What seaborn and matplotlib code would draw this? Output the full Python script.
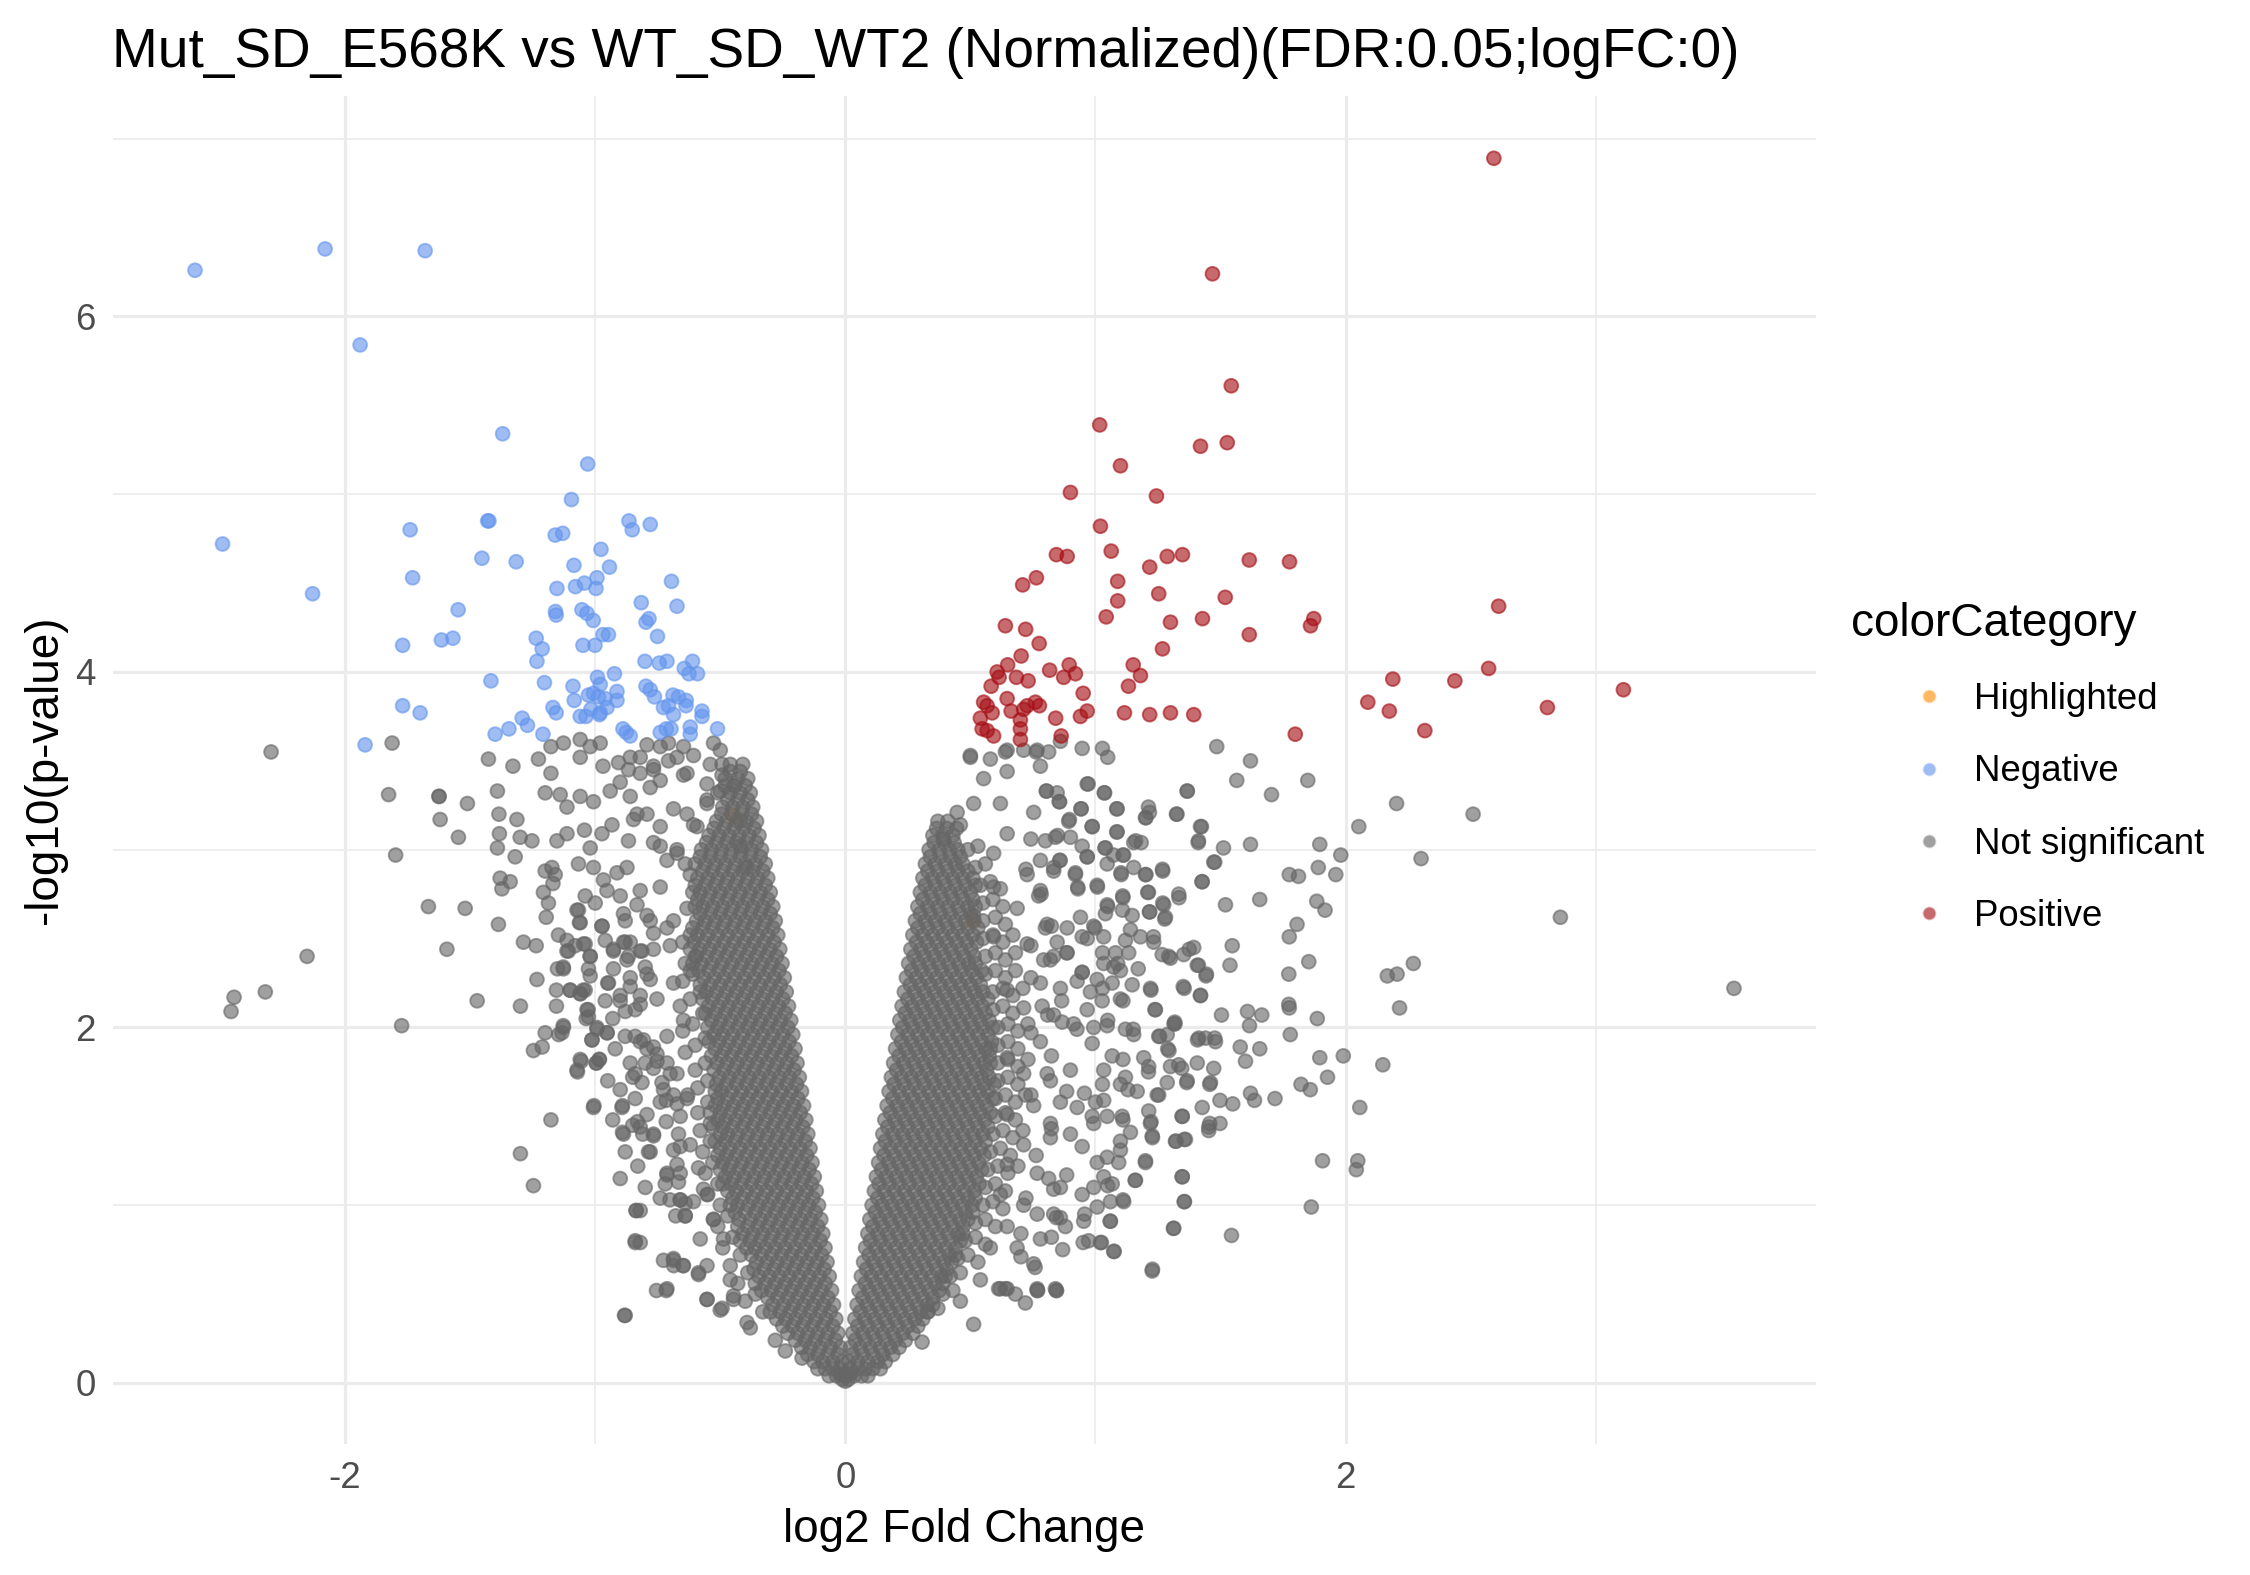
import numpy as np
import pandas as pd
import seaborn as sns
import matplotlib.pyplot as plt

# values (log2FC, -log10 p)
negative_pts = [
    (-2.60, 6.26), (-2.08, 6.38), (-1.68, 6.37), (-1.94, 5.84), (-1.37, 5.34), (-1.03, 5.17),
    (-1.43, 4.85), (-1.74, 4.80), (-1.73, 4.53), (-2.49, 4.72), (-2.13, 4.44), (-1.92, 3.59),
    (-1.77, 4.15), (-1.77, 3.81), (-1.70, 3.77),
    (-1.095, 4.97), (-1.425, 4.85), (-1.16, 4.77), (-1.13, 4.78), (-0.865, 4.85), (-0.852, 4.80),
    (-0.78, 4.83), (-1.453, 4.64), (-1.316, 4.62), (-0.977, 4.69), (-1.085, 4.60), (-0.943, 4.59),
    (-1.153, 4.47), (-1.079, 4.48), (-1.043, 4.50), (-0.993, 4.53), (-0.997, 4.47), (-0.695, 4.51),
    (-1.548, 4.35), (-0.816, 4.39), (-0.673, 4.37), (-1.159, 4.34), (-1.156, 4.32), (-1.053, 4.35),
    (-1.033, 4.33), (-1.008, 4.29), (-0.797, 4.28), (-0.785, 4.30), (-1.615, 4.18), (-1.569, 4.19),
    (-0.969, 4.21), (-0.947, 4.21), (-0.751, 4.20), (-1.236, 4.19), (-1.212, 4.13), (-1.233, 4.06),
    (-1.049, 4.15), (-1.001, 4.15), (-0.801, 4.06), (-0.744, 4.05), (-0.713, 4.06), (-0.644, 4.02),
    (-0.625, 3.99), (-0.611, 4.06), (-0.591, 3.99), (-1.417, 3.95), (-1.203, 3.94), (-0.991, 3.97),
    (-0.980, 3.93), (-0.923, 3.99), (-1.089, 3.92), (-1.084, 3.84), (-1.027, 3.87), (-1.007, 3.88),
    (-0.987, 3.86), (-0.960, 3.85), (-0.913, 3.89), (-0.913, 3.84), (-0.797, 3.92), (-0.780, 3.90),
    (-0.763, 3.86), (-0.689, 3.87), (-0.667, 3.86), (-0.636, 3.84), (-0.637, 3.81), (-0.727, 3.80),
    (-0.707, 3.81), (-0.687, 3.76), (-0.573, 3.78), (-0.573, 3.75), (-1.169, 3.80), (-1.156, 3.77),
    (-1.060, 3.75), (-1.037, 3.75), (-1.017, 3.79), (-0.983, 3.76), (-0.980, 3.77), (-0.953, 3.80),
    (-1.292, 3.74), (-1.271, 3.70), (-1.345, 3.68), (-1.400, 3.65), (-1.209, 3.65), (-0.889, 3.68),
    (-0.876, 3.66), (-0.860, 3.64), (-0.740, 3.66), (-0.716, 3.68), (-0.697, 3.68), (-0.620, 3.69),
    (-0.620, 3.65), (-0.511, 3.68),
]

positive_pts = [
    (2.593, 6.89), (1.468, 6.24), (1.543, 5.61), (1.017, 5.39), (1.42, 5.27), (1.527, 5.29),
    (1.10, 5.16), (0.90, 5.01), (1.244, 4.99), (1.02, 4.82), (1.063, 4.68), (0.844, 4.66),
    (0.887, 4.65), (1.287, 4.65), (1.348, 4.66), (1.217, 4.59), (1.615, 4.63), (1.776, 4.62),
    (0.764, 4.53), (0.709, 4.49), (1.089, 4.51), (1.089, 4.40), (1.253, 4.44), (1.519, 4.42),
    (1.043, 4.31), (1.30, 4.28), (1.428, 4.30), (1.873, 4.30), (1.86, 4.26), (1.615, 4.21),
    (0.64, 4.26), (0.721, 4.24), (0.775, 4.16), (0.703, 4.09), (1.268, 4.13), (0.649, 4.04),
    (1.151, 4.04), (1.18, 3.98), (0.895, 4.04), (0.92, 3.99), (0.873, 3.97), (0.817, 4.01),
    (0.607, 4.00), (0.615, 3.97), (0.684, 3.97), (0.731, 3.95), (0.583, 3.92), (1.132, 3.92),
    (0.951, 3.88), (0.647, 3.85), (0.553, 3.83), (0.567, 3.81), (0.76, 3.83), (0.776, 3.81),
    (0.713, 3.79), (0.727, 3.81), (0.587, 3.77), (0.663, 3.78), (0.967, 3.78), (0.94, 3.75),
    (1.116, 3.77), (1.217, 3.76), (1.30, 3.77), (1.393, 3.76), (0.841, 3.74), (0.54, 3.74),
    (0.547, 3.68), (0.567, 3.67), (0.70, 3.73), (0.70, 3.68), (0.70, 3.62), (0.593, 3.64),
    (0.863, 3.64), (1.799, 3.65), (2.089, 3.83), (2.612, 4.37), (2.572, 4.02), (2.189, 3.96),
    (2.437, 3.95), (2.175, 3.78), (2.317, 3.67), (2.807, 3.80), (3.111, 3.90),
]

highlighted_pts = [(-0.447, 3.19), (0.507, 2.60)]

# sparse / outlying non-significant genes
grey_left_pts = [
    (-2.296, 3.55), (-1.812, 3.60), (-1.826, 3.31), (-1.625, 3.30), (-1.798, 2.97), (-2.152, 2.40),
    (-2.319, 2.20), (-2.444, 2.17), (-2.456, 2.09), (-1.472, 2.15), (-1.774, 2.01), (-1.299, 2.12),
    (-1.247, 1.87), (-1.212, 1.89), (-1.200, 1.97), (-1.177, 1.48), (-1.299, 1.29), (-1.247, 1.11),
    (-1.233, 2.27), (-1.155, 2.21), (-1.10, 2.21), (-1.059, 2.19), (-1.155, 2.12), (-1.128, 2.01),
    (-1.146, 1.96), (-1.048, 2.21), (-1.028, 2.10), (-1.036, 2.05), (-0.993, 2.00), (-1.013, 1.93),
    (-0.952, 1.97), (-1.056, 1.81), (-1.071, 1.75), (-0.995, 1.80), (-0.984, 1.82), (-1.005, 1.56),
    (-0.891, 1.56), (-0.891, 1.41), (-0.837, 0.97), (-0.840, 0.80), (-0.883, 0.38), (-0.727, 0.69),
    (-0.686, 0.66), (-0.755, 0.52), (-0.678, 0.94), (-0.701, 1.03), (-0.64, 1.01), (-1.128, 2.34),
    (-1.151, 2.33), (-0.95, 2.25), (-0.90, 2.15), (-0.93, 2.05), (-0.88, 1.95), (-0.92, 1.88),
    (-0.86, 1.80), (-0.95, 1.70), (-0.90, 1.65), (-0.85, 1.72), (-0.93, 1.48), (-0.85, 1.45),
    (-0.88, 1.30), (-0.83, 1.22), (-0.90, 1.15), (-0.80, 1.10), (-0.86, 2.28), (-0.84, 2.10),
    (-0.82, 1.92), (-0.84, 1.60), (-0.81, 1.40),
    (-1.06, 3.62), (-1.02, 3.58), (-0.98, 3.60), (-1.06, 3.52), (-1.127, 3.60), (-1.177, 3.58),
    (-1.227, 3.51), (-1.427, 3.51), (-1.329, 3.47), (-1.177, 3.43), (-0.969, 3.47), (-0.907, 3.49),
    (-0.86, 3.52), (-0.82, 3.52), (-0.793, 3.59), (-0.74, 3.58), (-0.707, 3.60), (-0.647, 3.58),
    (-0.607, 3.53), (-0.527, 3.60), (-0.50, 3.56), (-0.54, 3.48), (-0.493, 3.48), (-0.493, 3.42),
    (-0.447, 3.36), (-0.553, 3.37), (-0.633, 3.43), (-0.673, 3.52), (-0.707, 3.50), (-0.767, 3.45),
    (-0.74, 3.39), (-0.78, 3.35), (-0.82, 3.43), (-0.867, 3.45), (-0.90, 3.38), (-0.94, 3.33),
    (-1.007, 3.27), (-1.06, 3.30), (-1.113, 3.24), (-1.14, 3.31), (-1.20, 3.32), (-1.391, 3.33),
    (-1.511, 3.26), (-1.624, 3.30), (-1.62, 3.17), (-1.547, 3.07), (-1.385, 3.20), (-1.313, 3.17),
    (-1.30, 3.07), (-1.253, 3.05), (-1.391, 3.01), (-1.32, 2.96), (-1.383, 3.09), (-1.153, 3.05),
    (-1.113, 3.09), (-1.043, 3.11), (-1.02, 3.01), (-0.973, 3.09), (-0.933, 3.14), (-0.867, 3.05),
    (-0.847, 3.17), (-0.793, 3.20), (-0.74, 3.13), (-0.687, 3.23), (-0.633, 3.20), (-0.593, 3.13),
    (-0.553, 3.28), (-0.42, 3.16), (-0.86, 3.30), (-0.833, 3.20), (-0.767, 3.04), (-0.713, 2.94),
    (-0.673, 3.00), (-1.067, 2.92), (-1.007, 2.90), (-1.173, 2.90), (-1.20, 2.88), (-1.16, 2.86),
    (-1.169, 2.81), (-1.207, 2.76), (-1.38, 2.84), (-1.34, 2.82), (-1.373, 2.78), (-1.187, 2.70),
    (-1.196, 2.62), (-1.667, 2.68), (-1.52, 2.67), (-1.387, 2.58), (-1.593, 2.44), (-1.287, 2.48),
    (-1.236, 2.46), (-1.147, 2.52), (-1.113, 2.49), (-1.073, 2.66), (-1.063, 2.59), (-1.04, 2.74),
    (-1.047, 2.47), (-0.967, 2.83), (-0.953, 2.77), (-0.913, 2.87), (-0.90, 2.74), (-0.887, 2.64),
    (-0.873, 2.90), (-0.833, 2.69), (-0.82, 2.77), (-0.78, 2.60), (-0.767, 2.53), (-0.713, 2.56),
    (-0.973, 2.57), (-0.927, 2.44), (-0.88, 2.48), (-0.867, 2.40), (-1.107, 2.43), (-1.02, 2.40),
    (-0.82, 2.43),
    (-0.78, 1.30), (-0.767, 1.40), (-0.713, 1.18), (-0.66, 1.03), (-0.64, 0.94), (-0.687, 0.70),
    (-0.647, 0.66), (-0.713, 0.53), (-0.587, 0.61), (-0.553, 0.47), (-0.50, 0.41), (-0.447, 0.47),
    (-0.393, 0.34), (-0.38, 0.31), (-0.28, 0.24), (-0.24, 0.18), (-0.173, 0.14), (-0.793, 1.51),
    (-0.74, 1.58), (-0.687, 1.62), (-0.633, 1.60), (-0.70, 1.74), (-0.753, 1.81), (-0.793, 1.88),
    (-0.713, 1.95), (-0.647, 2.04), (-0.753, 2.16), (-0.793, 2.30), (-0.687, 2.25), (-0.62, 2.32),
    (-0.767, 2.44), (-0.70, 2.46), (-0.793, 2.63), (-0.687, 2.60), (-0.633, 2.67), (-0.74, 2.79),
    (-0.62, 2.86), (-0.673, 2.98), (-0.74, 3.02), (-0.607, 3.14), (-0.553, 3.26), (-0.50, 3.33),
    (-0.647, 3.42), (-0.767, 3.47), (-0.42, 3.02), (-0.393, 2.90), (-0.587, 1.21), (-0.567, 1.09),
    (-0.527, 0.92), (-0.487, 0.81), (-0.46, 0.58), (-0.58, 0.81), (-0.62, 1.34), (-0.74, 1.04),
    (-0.82, 0.97), (-0.82, 0.79),
    (-1.067, 2.66), (-1.06, 2.59), (-1.00, 2.70), (-0.973, 2.57), (-0.96, 2.49), (-0.88, 2.60),
    (-0.887, 2.48), (-0.86, 2.48), (-0.927, 2.43), (-1.02, 2.40), (-1.113, 2.43), (-1.08, 2.46),
    (-1.04, 2.47), (-1.127, 2.33), (-1.027, 2.33), (-1.02, 2.29), (-0.927, 2.33), (-0.873, 2.38),
    (-0.813, 2.43), (-0.80, 2.34), (-0.78, 2.27), (-0.86, 2.23), (-0.947, 2.25), (-0.90, 2.18),
    (-0.82, 2.18), (-0.82, 2.13), (-0.88, 2.09), (-0.96, 2.15), (-1.033, 2.10), (-1.027, 2.06),
    (-1.10, 2.21), (-1.06, 2.19), (-1.04, 2.21), (-0.993, 1.99), (-1.013, 1.93), (-0.953, 1.97),
    (-1.127, 2.00), (-1.133, 1.97), (-0.84, 1.95), (-0.807, 1.93), (-0.767, 1.89), (-0.753, 1.85),
    (-0.80, 1.80), (-0.767, 1.77), (-0.84, 1.74), (-0.813, 1.69), (-0.733, 1.69), (-0.713, 1.80),
    (-0.673, 1.74), (-0.727, 1.65), (-0.716, 1.59), (-0.673, 1.57), (-1.06, 1.82), (-1.073, 1.76),
    (-0.996, 1.80), (-0.983, 1.82), (-1.007, 1.55), (-0.893, 1.55), (-0.831, 1.47), (-0.82, 1.44),
    (-0.887, 1.40), (-0.767, 1.39), (-0.787, 1.30), (-0.716, 1.47), (-0.66, 1.50), (-0.667, 1.40),
    (-0.66, 1.33), (-0.687, 1.31), (-0.673, 1.23), (-0.66, 1.18), (-0.713, 1.17), (-0.72, 1.12),
    (-0.667, 1.13), (-0.836, 0.97), (-0.64, 0.94), (-0.66, 1.03), (-0.607, 1.02), (-0.84, 0.79),
    (-0.687, 0.69), (-0.649, 0.66), (-0.587, 0.62), (-0.553, 0.66), (-0.716, 0.52), (-0.553, 0.47),
    (-0.493, 0.42), (-0.88, 0.38), (-0.447, 0.49), (-0.527, 0.92), (-0.553, 1.06),
]

# the solid rim just outside the core on the left
grey_left_mass = [
    (-0.62, 2.52), (-0.65, 2.48), (-0.60, 2.40), (-0.64, 2.36), (-0.61, 2.30), (-0.65, 2.26),
    (-0.58, 2.20), (-0.62, 2.16), (-0.66, 2.12), (-0.57, 2.08), (-0.61, 2.02), (-0.65, 1.98),
    (-0.56, 1.94), (-0.60, 1.90), (-0.64, 1.86), (-0.56, 1.80), (-0.60, 1.76), (-0.55, 1.70),
    (-0.59, 1.66), (-0.63, 1.62), (-0.55, 1.58), (-0.59, 1.52), (-0.54, 1.46), (-0.58, 1.42),
    (-0.54, 1.36), (-0.57, 1.30), (-0.53, 1.24), (-0.56, 1.18), (-0.51, 1.12), (-0.55, 1.06),
    (-0.50, 1.00), (-0.47, 0.94), (-0.51, 0.88), (-0.45, 0.82), (-0.49, 0.76), (-0.42, 0.72),
    (-0.46, 0.66), (-0.39, 0.62), (-0.43, 0.56), (-0.36, 0.50), (-0.40, 0.46), (-0.33, 0.40),
]

grey_right_pts = [
    (1.485, 3.58), (1.62, 3.50), (1.565, 3.39), (1.849, 3.39), (1.704, 3.31), (1.367, 3.33),
    (2.204, 3.26), (2.51, 3.20), (2.053, 3.13), (1.326, 3.20), (1.424, 3.13), (1.412, 3.05),
    (1.512, 3.01), (1.62, 3.03), (1.897, 3.03), (1.981, 2.97), (2.302, 2.95), (1.477, 2.93),
    (1.775, 2.86), (1.812, 2.85), (1.891, 2.90), (1.961, 2.86), (1.426, 2.82), (1.657, 2.72),
    (1.52, 2.69), (1.885, 2.71), (1.918, 2.66), (2.859, 2.62), (1.806, 2.58), (1.775, 2.51),
    (1.547, 2.46), (1.853, 2.37), (1.538, 2.35), (1.773, 2.30), (2.167, 2.29), (2.206, 2.30),
    (2.271, 2.36), (3.553, 2.22), (2.216, 2.11), (1.773, 2.13), (1.775, 2.11), (1.887, 2.05),
    (1.504, 2.07), (1.608, 2.09), (1.665, 2.07), (1.616, 2.01), (1.779, 1.96), (1.318, 2.02),
    (1.897, 1.83), (1.991, 1.84), (2.149, 1.79), (1.657, 1.88), (1.579, 1.89), (1.60, 1.81),
    (1.822, 1.68), (1.859, 1.65), (1.928, 1.72), (1.718, 1.60), (1.636, 1.59), (1.62, 1.63),
    (1.549, 1.57), (1.498, 1.59), (2.057, 1.55), (1.347, 1.50), (1.457, 1.46), (1.498, 1.46),
    (1.453, 1.42), (1.322, 1.36), (1.355, 1.37), (1.908, 1.25), (2.049, 1.25), (2.043, 1.20),
    (1.347, 1.16), (1.355, 1.02), (1.863, 0.99), (1.312, 0.87), (1.544, 0.83), (1.228, 0.64),
    (1.159, 1.14), (1.20, 1.25), (0.844, 0.52), (0.769, 0.52), (1.075, 0.74), (1.024, 0.79),
    (0.951, 0.79), (0.869, 0.75), (0.759, 0.65), (0.64, 0.53), (0.72, 0.45), (0.68, 0.50),
    (0.64, 3.55), (0.763, 3.55), (0.947, 3.57), (1.028, 3.57), (1.049, 3.52), (0.971, 3.37),
    (1.036, 3.32), (0.804, 3.33), (0.855, 3.27), (0.942, 3.23), (1.085, 3.23), (1.212, 3.24),
    (1.202, 3.18), (0.896, 3.17), (0.987, 3.13), (1.085, 3.10), (1.161, 3.05), (0.742, 3.06),
    (0.84, 3.07), (0.947, 3.02), (1.038, 3.01), (1.11, 2.97), (0.967, 2.96), (0.859, 2.94),
    (0.722, 2.89), (0.92, 2.87), (1.102, 2.87), (1.202, 2.86), (1.269, 2.88), (1.008, 2.79),
    (1.212, 2.76), (0.93, 2.78), (1.334, 2.73), (1.11, 2.73), (0.783, 2.75), (1.049, 2.68),
    (1.273, 2.69), (1.216, 2.65), (0.824, 2.57), (0.998, 2.56), (1.14, 2.55), (1.277, 2.61),
    (1.12, 2.49), (1.232, 2.51), (1.028, 2.42), (1.293, 2.40), (1.375, 2.44), (0.947, 2.51),
    (0.885, 2.42), (0.742, 2.46), (1.089, 2.36), (1.171, 2.33), (1.412, 2.35), (1.442, 2.29),
    (0.742, 2.28), (0.947, 2.31), (1.028, 2.22), (1.222, 2.21), (1.355, 2.22), (1.42, 2.18),
    (0.865, 2.15), (1.11, 2.15), (1.238, 2.10), (1.314, 2.02), (1.151, 1.99), (1.049, 2.04),
    (0.926, 1.99), (0.742, 1.97), (0.824, 1.84), (0.987, 1.91), (1.11, 1.82), (1.253, 1.95),
    (1.294, 1.87), (1.408, 1.93), (1.477, 1.94), (1.345, 1.77), (1.212, 1.75), (1.028, 1.68),
    (0.885, 1.64), (1.13, 1.65), (1.253, 1.62), (1.365, 1.69), (1.457, 1.68), (0.742, 1.62),
    (1.11, 1.48), (0.987, 1.50), (0.824, 1.43), (1.222, 1.47), (0.947, 1.33), (1.10, 1.31),
    (1.228, 1.38), (0.763, 1.28), (0.885, 1.17), (1.049, 1.11), (0.947, 1.06), (0.722, 1.04),
    (1.11, 1.03), (0.844, 0.93), (0.957, 0.95), (1.059, 0.91), (0.702, 0.84), (0.824, 0.82),
    (0.702, 0.71), (0.62, 1.06),
    (0.513, 0.33), (0.307, 0.23), (0.613, 0.53), (0.647, 0.53), (0.767, 0.53), (0.84, 0.53),
    (0.753, 0.67), (0.687, 0.76), (0.78, 0.81), (0.833, 0.95), (0.713, 1.00), (0.647, 0.88),
    (0.58, 0.76), (0.54, 0.58), (0.46, 0.46), (0.767, 1.18), (0.833, 1.09), (0.647, 1.23),
    (0.713, 1.34), (0.82, 1.46), (0.753, 1.56), (0.647, 1.51), (0.82, 1.70), (0.713, 1.74),
    (0.647, 1.83), (0.78, 1.92), (0.833, 2.07), (0.713, 2.11), (0.78, 2.25), (0.647, 2.21),
    (0.833, 2.40), (0.727, 2.47), (0.807, 2.58), (0.687, 2.67), (0.78, 2.77), (0.833, 2.90),
    (0.727, 2.86), (0.593, 2.98), (0.647, 3.09), (0.753, 3.21), (0.62, 3.26), (0.513, 3.26),
    (0.447, 3.21), (0.553, 3.40), (0.647, 3.44), (0.78, 3.47), (0.50, 3.52), (0.393, 3.06),
    (0.46, 3.14), (0.593, 2.79), (0.593, 2.51), (0.513, 2.63),
    (0.50, 3.53), (0.58, 3.51), (0.647, 3.56), (0.713, 3.56), (0.767, 3.56), (0.813, 3.55),
    (0.86, 3.61),
    (0.967, 3.37), (1.036, 3.32), (1.087, 3.23), (1.20, 3.18), (1.216, 3.21), (1.324, 3.20),
    (1.367, 3.33), (1.42, 3.13), (1.411, 3.04), (1.473, 2.93), (0.804, 3.33), (0.847, 3.32),
    (0.857, 3.27), (0.893, 3.16), (0.943, 3.23), (0.80, 3.05), (0.849, 3.08), (0.90, 3.07),
    (0.987, 3.13), (1.087, 3.10), (1.153, 3.04), (1.183, 3.04), (1.04, 3.01), (0.967, 2.96),
    (0.857, 2.94), (0.833, 2.88), (0.92, 2.86), (1.073, 2.97), (1.113, 2.97), (1.047, 2.92),
    (1.103, 2.86), (1.153, 2.90), (1.20, 2.86), (1.268, 2.89), (1.209, 2.76), (1.007, 2.80),
    (0.929, 2.79), (1.109, 2.74), (1.333, 2.75), (1.427, 2.82), (1.047, 2.69), (1.04, 2.64),
    (1.108, 2.66), (1.147, 2.63), (1.217, 2.65), (1.269, 2.70), (1.28, 2.62), (0.94, 2.62),
    (0.887, 2.56), (0.993, 2.57), (1.033, 2.51), (1.18, 2.51), (1.233, 2.48), (1.133, 2.42),
    (1.08, 2.42), (1.073, 2.34), (0.967, 2.50), (0.847, 2.48), (0.887, 2.42), (0.793, 2.38),
    (0.82, 2.38), (0.947, 2.31), (1.033, 2.36), (1.267, 2.41), (1.30, 2.39), (1.353, 2.41),
    (1.393, 2.45), (1.407, 2.35), (1.444, 2.30), (1.10, 2.32), (1.147, 2.24), (1.351, 2.23),
    (1.42, 2.18), (1.22, 2.22), (1.067, 2.25), (1.007, 2.27), (1.24, 2.10), (1.027, 2.15),
    (1.10, 2.16), (0.787, 2.12), (0.809, 2.07), (0.867, 2.03), (0.913, 2.02), (0.967, 2.10),
    (0.993, 2.00), (1.047, 2.01), (1.12, 1.99), (1.153, 1.96), (1.257, 1.95), (1.287, 1.96),
    (1.317, 2.03), (1.289, 1.88), (1.413, 1.94), (1.44, 1.94), (1.48, 1.92), (1.407, 1.80),
    (1.473, 1.77), (1.193, 1.83), (1.213, 1.78), (1.30, 1.78), (1.333, 1.79), (1.067, 1.84),
    (1.033, 1.76), (1.12, 1.72), (1.10, 1.68), (1.167, 1.64), (1.247, 1.62), (1.287, 1.69),
    (1.367, 1.70), (1.46, 1.69), (0.956, 1.63), (1.00, 1.58), (1.033, 1.59), (1.213, 1.53),
    (1.22, 1.46), (1.347, 1.50), (1.427, 1.55), (1.453, 1.44), (1.32, 1.36), (1.36, 1.37),
    (1.227, 1.39), (1.107, 1.50), (1.14, 1.41), (0.993, 1.46), (1.047, 1.50), (1.10, 1.36),
    (1.093, 1.24), (1.20, 1.24), (1.007, 1.24), (1.047, 1.27), (1.16, 1.14), (1.347, 1.16),
    (1.356, 1.02), (0.993, 1.10), (1.033, 1.16), (1.067, 1.12), (1.06, 1.02), (1.113, 1.02),
    (1.007, 0.99), (0.953, 0.91), (0.973, 0.80), (1.02, 0.79), (1.073, 0.74), (1.06, 0.91),
    (1.313, 0.87), (1.227, 0.63), (0.86, 0.93), (0.88, 0.88), (0.767, 0.52), (0.844, 0.52),
    (0.62, 0.53), (0.813, 1.15), (0.86, 1.10), (0.767, 0.95), (0.82, 1.38), (0.90, 1.40),
    (0.86, 1.58), (0.927, 1.55), (0.807, 1.74), (0.90, 1.76), (0.86, 2.22), (0.927, 2.26),
    (0.98, 2.20), (0.80, 2.56), (0.773, 2.74), (0.78, 2.94),
]

# the solid rim just outside the core on the right
grey_right_mass = [
    (0.49, 3.00), (0.53, 3.02), (0.52, 2.90), (0.56, 2.92), (0.54, 2.80), (0.58, 2.82),
    (0.62, 2.78), (0.55, 2.70), (0.59, 2.72), (0.63, 2.68), (0.55, 2.60), (0.60, 2.62),
    (0.64, 2.58), (0.55, 2.50), (0.59, 2.52), (0.63, 2.48), (0.67, 2.52), (0.56, 2.40),
    (0.60, 2.42), (0.64, 2.38), (0.68, 2.42), (0.56, 2.30), (0.60, 2.32), (0.64, 2.28),
    (0.68, 2.32), (0.59, 2.20), (0.63, 2.22), (0.67, 2.18), (0.71, 2.22), (0.59, 2.10),
    (0.63, 2.12), (0.67, 2.08), (0.61, 2.00), (0.65, 2.02), (0.69, 1.98), (0.73, 2.02),
    (0.61, 1.90), (0.65, 1.92), (0.69, 1.88), (0.61, 1.80), (0.65, 1.82), (0.69, 1.78),
    (0.73, 1.82), (0.61, 1.70), (0.65, 1.72), (0.69, 1.68), (0.60, 1.60), (0.64, 1.62),
    (0.68, 1.58), (0.72, 1.62), (0.60, 1.50), (0.64, 1.52), (0.68, 1.48), (0.59, 1.40),
    (0.63, 1.42), (0.67, 1.38), (0.71, 1.42), (0.58, 1.30), (0.62, 1.32), (0.66, 1.28),
    (0.57, 1.20), (0.61, 1.22), (0.65, 1.18), (0.69, 1.22), (0.56, 1.10), (0.60, 1.12),
    (0.64, 1.08), (0.55, 1.00), (0.59, 1.02), (0.63, 0.98), (0.52, 0.90), (0.56, 0.92),
    (0.60, 0.88), (0.48, 0.80), (0.52, 0.82), (0.56, 0.78), (0.45, 0.70), (0.49, 0.72),
    (0.53, 0.68), (0.42, 0.60), (0.46, 0.62), (0.39, 0.50), (0.43, 0.52), (0.33, 0.40),
    (0.37, 0.42),
]

# dense core of the volcano, read row by row
cone_left_y = [0.04, 0.12, 0.20, 0.28, 0.36, 0.44, 0.52, 0.60, 0.68, 0.76, 0.84, 0.92, 1.00,
               1.08, 1.16, 1.24, 1.32, 1.40, 1.48, 1.56, 1.64, 1.72, 1.80, 1.88, 1.96, 2.04,
               2.12, 2.20, 2.28, 2.36, 2.44, 2.52, 2.60, 2.68, 2.76, 2.84, 2.92, 3.00, 3.08,
               3.16, 3.24, 3.32, 3.40, 3.48]
cone_left_x = [
    [-0.005, -0.035, -0.065],
    [-0.013, -0.05, -0.09, -0.125],
    [-0.021, -0.06, -0.10, -0.14, -0.175],
    [-0.03, -0.07, -0.11, -0.15, -0.19, -0.23],
    [-0.038, -0.078, -0.118, -0.158, -0.198, -0.238, -0.275],
    [-0.047, -0.087, -0.127, -0.167, -0.207, -0.247, -0.29],
    [-0.055, -0.095, -0.135, -0.175, -0.215, -0.255, -0.295, -0.335],
    [-0.064, -0.104, -0.144, -0.184, -0.224, -0.264, -0.304, -0.345],
    [-0.073, -0.113, -0.153, -0.193, -0.233, -0.273, -0.313, -0.355],
    [-0.081, -0.121, -0.161, -0.201, -0.241, -0.281, -0.321, -0.361, -0.395],
    [-0.09, -0.13, -0.17, -0.21, -0.25, -0.29, -0.33, -0.37, -0.41],
    [-0.098, -0.138, -0.178, -0.218, -0.258, -0.298, -0.338, -0.378, -0.425],
    [-0.107, -0.147, -0.187, -0.227, -0.267, -0.307, -0.347, -0.387, -0.43, -0.46],
    [-0.116, -0.156, -0.196, -0.236, -0.276, -0.316, -0.356, -0.396, -0.436, -0.47],
    [-0.124, -0.164, -0.204, -0.244, -0.284, -0.324, -0.364, -0.404, -0.444, -0.48],
    [-0.133, -0.173, -0.213, -0.253, -0.293, -0.333, -0.373, -0.413, -0.453, -0.49],
    [-0.141, -0.181, -0.221, -0.261, -0.301, -0.341, -0.381, -0.421, -0.461, -0.50],
    [-0.15, -0.19, -0.23, -0.27, -0.31, -0.35, -0.39, -0.43, -0.47, -0.50],
    [-0.158, -0.198, -0.238, -0.278, -0.318, -0.358, -0.398, -0.438, -0.478, -0.51],
    [-0.167, -0.207, -0.247, -0.287, -0.327, -0.367, -0.407, -0.447, -0.487, -0.52],
    [-0.175, -0.215, -0.255, -0.295, -0.335, -0.375, -0.415, -0.455, -0.495, -0.52],
    [-0.184, -0.224, -0.264, -0.304, -0.344, -0.384, -0.424, -0.464, -0.504],
    [-0.193, -0.233, -0.273, -0.313, -0.353, -0.393, -0.433, -0.473, -0.513],
    [-0.201, -0.241, -0.281, -0.321, -0.361, -0.401, -0.441, -0.481, -0.52],
    [-0.21, -0.25, -0.29, -0.33, -0.37, -0.41, -0.45, -0.49, -0.525],
    [-0.218, -0.258, -0.298, -0.338, -0.378, -0.418, -0.458, -0.498, -0.535],
    [-0.227, -0.267, -0.307, -0.347, -0.387, -0.427, -0.467, -0.507, -0.547],
    [-0.236, -0.276, -0.316, -0.356, -0.396, -0.436, -0.476, -0.516, -0.556],
    [-0.244, -0.284, -0.324, -0.364, -0.404, -0.444, -0.484, -0.524, -0.566],
    [-0.253, -0.293, -0.333, -0.373, -0.413, -0.453, -0.493, -0.533, -0.575, -0.61],
    [-0.262, -0.302, -0.342, -0.382, -0.422, -0.462, -0.502, -0.542, -0.582, -0.62],
    [-0.27, -0.31, -0.35, -0.39, -0.43, -0.47, -0.51, -0.55, -0.59],
    [-0.28, -0.32, -0.36, -0.40, -0.44, -0.48, -0.52, -0.56, -0.595],
    [-0.29, -0.33, -0.37, -0.41, -0.45, -0.49, -0.53, -0.57, -0.60],
    [-0.30, -0.34, -0.38, -0.42, -0.46, -0.50, -0.54, -0.58, -0.61],
    [-0.31, -0.35, -0.39, -0.43, -0.47, -0.51, -0.55, -0.59],
    [-0.32, -0.36, -0.40, -0.44, -0.48, -0.52, -0.56, -0.60, -0.64],
    [-0.335, -0.375, -0.415, -0.455, -0.495, -0.535, -0.575],
    [-0.345, -0.385, -0.425, -0.465, -0.505, -0.545],
    [-0.355, -0.395, -0.435, -0.475, -0.515],
    [-0.37, -0.41, -0.45, -0.49],
    [-0.38, -0.42, -0.46, -0.51],
    [-0.39, -0.43, -0.48],
    [-0.41, -0.46],
]

# in-between rows of the left core (it is packed far tighter than one row per 0.08)
cone_left2_y = [0.08, 0.16, 0.24, 0.32, 0.40, 0.48, 0.56, 0.64, 0.72, 0.80, 0.88, 0.96, 1.04,
                1.12, 1.20, 1.28, 1.36, 1.44, 1.52, 1.60, 1.68, 1.76, 1.84, 1.92, 2.00, 2.08,
                2.16, 2.24, 2.32, 2.40, 2.48, 2.56, 2.64, 2.72, 2.80, 2.88, 2.96, 3.04, 3.12,
                3.20, 3.28, 3.36, 3.44]
cone_left2_x = [
    [-0.02, -0.05, -0.08, -0.11],
    [-0.03, -0.07, -0.11, -0.15],
    [-0.04, -0.08, -0.12, -0.16, -0.20],
    [-0.05, -0.09, -0.13, -0.17, -0.21, -0.25],
    [-0.06, -0.10, -0.14, -0.18, -0.22, -0.26, -0.30],
    [-0.07, -0.11, -0.15, -0.19, -0.23, -0.27, -0.31],
    [-0.08, -0.12, -0.16, -0.20, -0.24, -0.28, -0.32, -0.36],
    [-0.085, -0.125, -0.165, -0.205, -0.245, -0.285, -0.325, -0.365],
    [-0.095, -0.135, -0.175, -0.215, -0.255, -0.295, -0.335, -0.375],
    [-0.10, -0.14, -0.18, -0.22, -0.26, -0.30, -0.34, -0.38, -0.42],
    [-0.11, -0.15, -0.19, -0.23, -0.27, -0.31, -0.35, -0.39, -0.43],
    [-0.12, -0.16, -0.20, -0.24, -0.28, -0.32, -0.36, -0.40, -0.44],
    [-0.13, -0.17, -0.21, -0.25, -0.29, -0.33, -0.37, -0.41, -0.45],
    [-0.135, -0.175, -0.215, -0.255, -0.295, -0.335, -0.375, -0.415, -0.455, -0.49],
    [-0.145, -0.185, -0.225, -0.265, -0.305, -0.345, -0.385, -0.425, -0.465, -0.50],
    [-0.155, -0.195, -0.235, -0.275, -0.315, -0.355, -0.395, -0.435, -0.475, -0.51],
    [-0.16, -0.20, -0.24, -0.28, -0.32, -0.36, -0.40, -0.44, -0.48, -0.52],
    [-0.17, -0.21, -0.25, -0.29, -0.33, -0.37, -0.41, -0.45, -0.49, -0.53],
    [-0.18, -0.22, -0.26, -0.30, -0.34, -0.38, -0.42, -0.46, -0.50, -0.54],
    [-0.19, -0.23, -0.27, -0.31, -0.35, -0.39, -0.43, -0.47, -0.51],
    [-0.195, -0.235, -0.275, -0.315, -0.355, -0.395, -0.435, -0.475, -0.515],
    [-0.205, -0.245, -0.285, -0.325, -0.365, -0.405, -0.445, -0.485, -0.525],
    [-0.215, -0.255, -0.295, -0.335, -0.375, -0.415, -0.455, -0.495, -0.535],
    [-0.225, -0.265, -0.305, -0.345, -0.385, -0.425, -0.465, -0.505, -0.545],
    [-0.23, -0.27, -0.31, -0.35, -0.39, -0.43, -0.47, -0.51, -0.55],
    [-0.24, -0.28, -0.32, -0.36, -0.40, -0.44, -0.48, -0.52, -0.56],
    [-0.25, -0.29, -0.33, -0.37, -0.41, -0.45, -0.49, -0.53, -0.57],
    [-0.26, -0.30, -0.34, -0.38, -0.42, -0.46, -0.50, -0.54, -0.58],
    [-0.265, -0.305, -0.345, -0.385, -0.425, -0.465, -0.505, -0.545, -0.585],
    [-0.275, -0.315, -0.355, -0.395, -0.435, -0.475, -0.515, -0.555, -0.595],
    [-0.285, -0.325, -0.365, -0.405, -0.445, -0.485, -0.525, -0.565, -0.605],
    [-0.29, -0.33, -0.37, -0.41, -0.45, -0.49, -0.53, -0.57, -0.61],
    [-0.30, -0.34, -0.38, -0.42, -0.46, -0.50, -0.54, -0.58],
    [-0.31, -0.35, -0.39, -0.43, -0.47, -0.51, -0.55, -0.59],
    [-0.32, -0.36, -0.40, -0.44, -0.48, -0.52, -0.56, -0.60],
    [-0.33, -0.37, -0.41, -0.45, -0.49, -0.53, -0.57],
    [-0.34, -0.38, -0.42, -0.46, -0.50, -0.54, -0.58],
    [-0.355, -0.395, -0.435, -0.475, -0.515, -0.555],
    [-0.365, -0.405, -0.445, -0.485, -0.525],
    [-0.375, -0.415, -0.455, -0.495],
    [-0.39, -0.43, -0.47],
    [-0.40, -0.44, -0.48],
    [-0.42, -0.46],
]

cone_right_y = [0.04, 0.12, 0.20, 0.28, 0.36, 0.44, 0.52, 0.60, 0.68, 0.76, 0.84, 0.92, 1.00,
                1.08, 1.16, 1.24, 1.32, 1.40, 1.48, 1.56, 1.64, 1.72, 1.80, 1.88, 1.96, 2.04,
                2.12, 2.20, 2.28, 2.36, 2.44, 2.52, 2.60, 2.68, 2.76, 2.84, 2.92, 3.00, 3.08,
                3.16]
cone_right_x = [
    [0.005, 0.035, 0.065, 0.09],
    [0.013, 0.05, 0.09, 0.13, 0.16],
    [0.021, 0.06, 0.10, 0.14, 0.18, 0.215],
    [0.03, 0.07, 0.11, 0.15, 0.19, 0.23, 0.27],
    [0.038, 0.078, 0.118, 0.158, 0.198, 0.238, 0.278, 0.31],
    [0.047, 0.087, 0.127, 0.167, 0.207, 0.247, 0.287, 0.327, 0.35],
    [0.055, 0.095, 0.135, 0.175, 0.215, 0.255, 0.295, 0.335, 0.375],
    [0.064, 0.104, 0.144, 0.184, 0.224, 0.264, 0.304, 0.344, 0.384, 0.40],
    [0.073, 0.113, 0.153, 0.193, 0.233, 0.273, 0.313, 0.353, 0.393, 0.425],
    [0.081, 0.121, 0.161, 0.201, 0.241, 0.281, 0.321, 0.361, 0.401, 0.441],
    [0.09, 0.13, 0.17, 0.21, 0.25, 0.29, 0.33, 0.37, 0.41, 0.45, 0.47],
    [0.098, 0.138, 0.178, 0.218, 0.258, 0.298, 0.338, 0.378, 0.418, 0.458, 0.49],
    [0.107, 0.147, 0.187, 0.227, 0.267, 0.307, 0.347, 0.387, 0.427, 0.467, 0.507],
    [0.116, 0.156, 0.196, 0.236, 0.276, 0.316, 0.356, 0.396, 0.436, 0.476, 0.516],
    [0.124, 0.164, 0.204, 0.244, 0.284, 0.324, 0.364, 0.404, 0.444, 0.484, 0.524],
    [0.133, 0.173, 0.213, 0.253, 0.293, 0.333, 0.373, 0.413, 0.453, 0.493, 0.533],
    [0.141, 0.181, 0.221, 0.261, 0.301, 0.341, 0.381, 0.421, 0.461, 0.501, 0.541],
    [0.15, 0.19, 0.23, 0.27, 0.31, 0.35, 0.39, 0.43, 0.47, 0.51, 0.55],
    [0.158, 0.198, 0.238, 0.278, 0.318, 0.358, 0.398, 0.438, 0.478, 0.518, 0.558],
    [0.167, 0.207, 0.247, 0.287, 0.327, 0.367, 0.407, 0.447, 0.487, 0.527, 0.565],
    [0.175, 0.215, 0.255, 0.295, 0.335, 0.375, 0.415, 0.455, 0.495, 0.535, 0.57],
    [0.184, 0.224, 0.264, 0.304, 0.344, 0.384, 0.424, 0.464, 0.504, 0.544, 0.575],
    [0.193, 0.233, 0.273, 0.313, 0.353, 0.393, 0.433, 0.473, 0.513, 0.553, 0.58],
    [0.201, 0.241, 0.281, 0.321, 0.361, 0.401, 0.441, 0.481, 0.521, 0.561, 0.58],
    [0.21, 0.25, 0.29, 0.33, 0.37, 0.41, 0.45, 0.49, 0.53, 0.57],
    [0.218, 0.258, 0.298, 0.338, 0.378, 0.418, 0.458, 0.498, 0.538, 0.575],
    [0.227, 0.267, 0.307, 0.347, 0.387, 0.427, 0.467, 0.507, 0.547],
    [0.236, 0.276, 0.316, 0.356, 0.396, 0.436, 0.476, 0.516, 0.55],
    [0.244, 0.284, 0.324, 0.364, 0.404, 0.444, 0.484, 0.524],
    [0.253, 0.293, 0.333, 0.373, 0.413, 0.453, 0.493, 0.52],
    [0.262, 0.302, 0.342, 0.382, 0.422, 0.462, 0.502],
    [0.27, 0.31, 0.35, 0.39, 0.43, 0.47, 0.51],
    [0.28, 0.32, 0.36, 0.40, 0.44, 0.48, 0.515],
    [0.29, 0.33, 0.37, 0.41, 0.45, 0.49, 0.52],
    [0.30, 0.34, 0.38, 0.42, 0.46, 0.50],
    [0.31, 0.35, 0.39, 0.43, 0.47, 0.51],
    [0.32, 0.36, 0.40, 0.44, 0.47],
    [0.335, 0.375, 0.415, 0.45],
    [0.35, 0.39, 0.43],
    [0.37, 0.41],
]

cone_right2_y = [0.08, 0.16, 0.24, 0.32, 0.40, 0.48, 0.56, 0.64, 0.72, 0.80, 0.88, 0.96, 1.04,
                 1.12, 1.20, 1.28, 1.36, 1.44, 1.52, 1.60, 1.68, 1.76, 1.84, 1.92, 2.00, 2.08,
                 2.16, 2.24, 2.32, 2.40, 2.48, 2.56, 2.64, 2.72, 2.80, 2.88, 2.96, 3.04, 3.12]
cone_right2_x = [
    [0.02, 0.05, 0.08, 0.11, 0.14],
    [0.03, 0.07, 0.11, 0.15, 0.19],
    [0.04, 0.08, 0.12, 0.16, 0.20, 0.24],
    [0.05, 0.09, 0.13, 0.17, 0.21, 0.25, 0.29],
    [0.06, 0.10, 0.14, 0.18, 0.22, 0.26, 0.30, 0.33],
    [0.07, 0.11, 0.15, 0.19, 0.23, 0.27, 0.31, 0.35],
    [0.08, 0.12, 0.16, 0.20, 0.24, 0.28, 0.32, 0.36, 0.39],
    [0.085, 0.125, 0.165, 0.205, 0.245, 0.285, 0.325, 0.365, 0.405],
    [0.095, 0.135, 0.175, 0.215, 0.255, 0.295, 0.335, 0.375, 0.415, 0.44],
    [0.10, 0.14, 0.18, 0.22, 0.26, 0.30, 0.34, 0.38, 0.42, 0.46],
    [0.11, 0.15, 0.19, 0.23, 0.27, 0.31, 0.35, 0.39, 0.43, 0.47],
    [0.12, 0.16, 0.20, 0.24, 0.28, 0.32, 0.36, 0.40, 0.44, 0.48, 0.51],
    [0.13, 0.17, 0.21, 0.25, 0.29, 0.33, 0.37, 0.41, 0.45, 0.49, 0.52],
    [0.135, 0.175, 0.215, 0.255, 0.295, 0.335, 0.375, 0.415, 0.455, 0.495, 0.535],
    [0.145, 0.185, 0.225, 0.265, 0.305, 0.345, 0.385, 0.425, 0.465, 0.505, 0.545],
    [0.155, 0.195, 0.235, 0.275, 0.315, 0.355, 0.395, 0.435, 0.475, 0.515, 0.555],
    [0.16, 0.20, 0.24, 0.28, 0.32, 0.36, 0.40, 0.44, 0.48, 0.52, 0.56],
    [0.17, 0.21, 0.25, 0.29, 0.33, 0.37, 0.41, 0.45, 0.49, 0.53, 0.57],
    [0.18, 0.22, 0.26, 0.30, 0.34, 0.38, 0.42, 0.46, 0.50, 0.54, 0.58],
    [0.19, 0.23, 0.27, 0.31, 0.35, 0.39, 0.43, 0.47, 0.51, 0.55, 0.59],
    [0.195, 0.235, 0.275, 0.315, 0.355, 0.395, 0.435, 0.475, 0.515, 0.555, 0.595],
    [0.205, 0.245, 0.285, 0.325, 0.365, 0.405, 0.445, 0.485, 0.525, 0.565],
    [0.215, 0.255, 0.295, 0.335, 0.375, 0.415, 0.455, 0.495, 0.535, 0.575],
    [0.225, 0.265, 0.305, 0.345, 0.385, 0.425, 0.465, 0.505, 0.545, 0.585],
    [0.23, 0.27, 0.31, 0.35, 0.39, 0.43, 0.47, 0.51, 0.55, 0.59],
    [0.24, 0.28, 0.32, 0.36, 0.40, 0.44, 0.48, 0.52, 0.56],
    [0.25, 0.29, 0.33, 0.37, 0.41, 0.45, 0.49, 0.53, 0.57],
    [0.26, 0.30, 0.34, 0.38, 0.42, 0.46, 0.50, 0.54],
    [0.265, 0.305, 0.345, 0.385, 0.425, 0.465, 0.505, 0.545],
    [0.275, 0.315, 0.355, 0.395, 0.435, 0.475, 0.515],
    [0.285, 0.325, 0.365, 0.405, 0.445, 0.485, 0.525],
    [0.29, 0.33, 0.37, 0.41, 0.45, 0.49, 0.53],
    [0.30, 0.34, 0.38, 0.42, 0.46, 0.50],
    [0.31, 0.35, 0.39, 0.43, 0.47, 0.51],
    [0.32, 0.36, 0.40, 0.44, 0.48, 0.52],
    [0.33, 0.37, 0.41, 0.45, 0.49],
    [0.34, 0.38, 0.42, 0.46],
    [0.355, 0.395, 0.435],
    [0.365, 0.405, 0.445],
]

cone_tip = [(0.0, 0.01), (-0.012, 0.02), (0.012, 0.02), (-0.02, 0.05), (0.02, 0.05)]

categories = ["Highlighted", "Negative", "Not significant", "Positive"]
palette = {"Highlighted": "#FF8C00", "Negative": "#6495ED",
           "Not significant": "#666666", "Positive": "#A50F15"}


def rows_to_pts(ys, xs):
    return [(x, y) for y, row in zip(ys, xs) for x in row]


grey_pts = (rows_to_pts(cone_left_y, cone_left_x) + rows_to_pts(cone_left2_y, cone_left2_x)
            + rows_to_pts(cone_right_y, cone_right_x) + rows_to_pts(cone_right2_y, cone_right2_x)
            + cone_tip + grey_left_mass + grey_right_mass + grey_left_pts + grey_right_pts)

frames = []
for cat, pts in [("Highlighted", highlighted_pts), ("Not significant", grey_pts),
                 ("Negative", negative_pts), ("Positive", positive_pts)]:
    d = pd.DataFrame(pts, columns=["logFC", "nlogp"])
    d["colorCategory"] = cat
    frames.append(d)
df = pd.concat(frames, ignore_index=True)

plt.rcParams["font.family"] = ["Liberation Sans", "DejaVu Sans"]
plt.rcParams["axes.unicode_minus"] = False

fig = plt.figure(figsize=(7.5, 5.25), dpi=300)
ax = fig.add_axes([0.050, 0.083, 0.757, 0.856])

sns.scatterplot(data=df, x="logFC", y="nlogp", hue="colorCategory", hue_order=categories,
                palette=palette, alpha=0.62, s=11, linewidth=0.45, ax=ax)
# matching edge colours so the rim looks like ggplot's alpha points
coll = ax.collections[0]
coll.set_edgecolor(coll.get_facecolor())

ax.set_xlim(-2.93, 3.88)
ax.set_ylim(-0.345, 7.24)
ax.set_xticks([-2, 0, 2])
ax.set_xticks([-1, 1, 3], minor=True)
ax.set_yticks([0, 2, 4, 6])
ax.set_yticks([1, 3, 5, 7], minor=True)
ax.grid(which="major", color="#EBEBEB", linewidth=0.75)
ax.grid(which="minor", color="#EBEBEB", linewidth=0.4)
ax.set_axisbelow(True)
for sp in ax.spines.values():
    sp.set_visible(False)
ax.tick_params(which="both", length=0, labelsize=8.8, labelcolor="#4D4D4D", pad=4)
ax.set_xlabel("log2 Fold Change", fontsize=11, labelpad=3)
ax.set_ylabel("-log10(p-value)", fontsize=11, labelpad=2)
ax.set_title("Mut_SD_E568K vs WT_SD_WT2 (Normalized)(FDR:0.05;logFC:0)", fontsize=13.2,
             loc="left", pad=7)

# legend entries, with the title placed a little to the left as ggplot does
sns.move_legend(ax, "upper left", bbox_to_anchor=(0.8493, 0.567), bbox_transform=fig.transFigure,
                frameon=False, title=None, fontsize=8.8, labelspacing=1.02, handlelength=1.0,
                handletextpad=0.73, borderpad=0, borderaxespad=0, markerscale=1.0)
leg = ax.get_legend()
for h in leg.legend_handles:
    h.set_alpha(0.62)
fig.text(0.8227, 0.604, "colorCategory", fontsize=11, ha="left", va="center")

fig.savefig("out.png", dpi=300, facecolor="white")
